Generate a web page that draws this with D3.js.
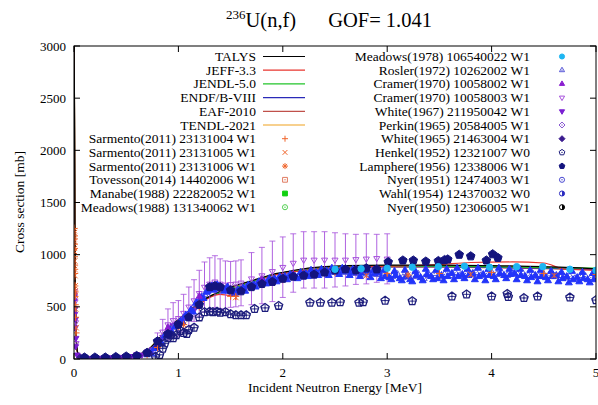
<!DOCTYPE html>
<html>
<head>
<meta charset="utf-8">
<script src="https://cdn.jsdelivr.net/npm/d3@7"></script>
<style>
  body { margin: 0; background: #fff; }
  svg { display: block; }
  text { font-family: "Liberation Serif", "Times New Roman", serif; fill: #000; }
</style>
</head>
<body>
<svg id="chart" width="598" height="405"></svg>
<script>
// ---- evaluated curves: [E (MeV), sigma (mb)] ----
var talys = [[0.0001,3600],[0.01,900],[0.02,260],[0.03,90],[0.05,25],[0.1,8],[0.2,6],[0.3,8],[0.4,12],[0.5,20],[0.6,40],[0.7,80],[0.8,180],[0.9,290],[1.0,380],[1.1,460],[1.2,540],[1.3,600],[1.4,650],[1.5,690],[1.6,720],[1.7,750],[1.8,780],[1.9,810],[2.0,830],[2.2,865],[2.4,885],[2.6,895],[3.0,900],[3.5,900],[4.0,895],[4.5,885],[5.0,865]];
var jeff = [[0.0001,3600],[0.01,850],[0.02,240],[0.03,80],[0.05,20],[0.1,6],[0.2,5],[0.3,7],[0.4,10],[0.5,18],[0.6,35],[0.7,70],[0.8,170],[0.9,280],[1.0,360],[1.1,440],[1.2,520],[1.3,590],[1.4,620],[1.5,610],[1.6,640],[1.7,700],[1.8,760],[1.9,800],[2.0,820],[2.2,850],[2.4,870],[2.6,880],[3.0,890],[3.5,905],[3.8,925],[4.2,930],[4.5,920],[4.7,860],[5.0,850]];
var jendl = [[0.0001,3600],[0.01,880],[0.02,250],[0.03,85],[0.05,22],[0.1,7],[0.2,6],[0.3,8],[0.4,11],[0.5,19],[0.6,38],[0.7,75],[0.8,175],[0.9,285],[1.0,370],[1.1,450],[1.2,530],[1.3,600],[1.4,640],[1.5,670],[1.6,705],[1.7,740],[1.8,775],[1.9,805],[2.0,825],[2.2,855],[2.4,875],[2.6,885],[3.0,890],[3.5,890],[4.0,885],[4.5,875],[5.0,870]];
var endf = [[0.0001,3600],[0.01,870],[0.02,250],[0.03,85],[0.05,22],[0.1,7],[0.2,6],[0.3,8],[0.4,11],[0.5,19],[0.6,38],[0.7,75],[0.8,175],[0.9,285],[1.0,370],[1.1,450],[1.2,530],[1.3,595],[1.4,635],[1.5,665],[1.6,700],[1.7,735],[1.8,770],[1.9,800],[2.0,820],[2.2,850],[2.4,870],[2.6,880],[3.0,885],[3.5,885],[4.0,880],[4.5,870],[5.0,860]];
var eaf = [[0.0001,3600],[0.01,860],[0.02,250],[0.03,85],[0.05,22],[0.1,7],[0.2,6],[0.3,8],[0.4,11],[0.5,19],[0.6,38],[0.7,75],[0.8,175],[0.9,285],[1.0,370],[1.1,450],[1.2,530],[1.3,595],[1.4,635],[1.5,665],[1.6,700],[1.7,735],[1.8,770],[1.9,800],[2.0,820],[2.2,850],[2.4,870],[2.6,880],[3.0,880],[3.5,880],[4.0,875],[4.5,865],[5.0,855]];
var tendl = [[0.0001,3600],[0.01,900],[0.02,260],[0.03,90],[0.05,25],[0.1,8],[0.2,6],[0.3,8],[0.4,12],[0.5,20],[0.6,40],[0.7,80],[0.8,180],[0.9,290],[1.0,375],[1.1,455],[1.2,535],[1.3,600],[1.4,645],[1.5,685],[1.6,715],[1.7,745],[1.8,775],[1.9,805],[2.0,825],[2.2,860],[2.4,880],[2.6,890],[3.0,895],[3.5,895],[4.0,890],[4.5,880],[5.0,865]];

// ---- experimental data: [E (MeV), sigma (mb), error (mb)] ----
var sarmento1 = [[0.002,1250,40],[0.003,1180,40],[0.004,1100,40],[0.005,980,40],[0.006,900,40],[0.007,820,40],[0.008,700,40],[0.010,600,30],[0.012,520,30],[0.015,400,30],[0.020,250,20],[0.30,3,2],[0.40,5,3],[0.50,10,4],[0.60,20,5],[0.70,40,8],[0.80,110,15],[0.90,250,20],[1.00,320,20],[1.20,500,25],[1.50,600,25],[1.55,600,25],[1.80,720,25],[2.00,760,25],[2.50,830,25],[3.00,820,25],[3.50,820,25],[4.00,830,25],[4.50,820,25],[5.00,810,25]];
var sarmento2 = [[0.002,1230,40],[0.003,1210,40],[0.004,1130,40],[0.005,1030,40],[0.006,940,40],[0.008,800,40],[0.010,700,30],[0.012,610,30],[0.015,480,30],[0.020,300,20],[0.60,5,3],[1.00,300,20],[1.55,590,25],[2.80,800,25],[3.80,810,25],[4.60,800,25]];
var sarmento3 = [[0.003,1150,40],[0.005,1060,40],[0.007,860,40],[0.010,650,30],[0.50,8,3],[1.05,330,20],[3.20,805,25]];
var tovesson = [];
var manabe = [];
var meadows88 = [];
var meadows78 = [[2.50,860,15],[2.75,865,15],[3.00,870,15],[3.24,880,15],[3.49,885,15],[3.74,890,15],[3.98,880,15],[4.24,885,15],[4.49,885,15],[4.75,860,15],[5.00,850,15]];
var roslerE = [0.70,0.75,0.80,0.85,0.90,0.95,1.00,1.05,1.10,1.15,1.20,1.25,1.30,1.35,1.40,1.45,1.50,1.55,1.60,1.65,1.70,1.75,1.80,1.85,1.90,1.95,2.00,2.05,2.10,2.15,2.20,2.25,2.30,2.35,2.40,2.45,2.50,2.55,2.60,2.65,2.70,2.75,2.80,2.85,2.90,2.95,3.00,3.05,3.10,3.15,3.20,3.25,3.30,3.35,3.40,3.45,3.50,3.55,3.60,3.65,3.70,3.75,3.80,3.85,3.90,3.95,4.00,4.05,4.10,4.15,4.20,4.25,4.30,4.35,4.40,4.45,4.50,4.55,4.60,4.65,4.70,4.75,4.80,4.85,4.90,4.95,5.00];
var roslerS = [40,80,130,200,260,300,340,390,430,500,560,620,680,690,680,670,650,640,660,690,700,720,730,740,760,760,780,790,800,790,810,820,815,830,820,840,830,845,830,840,820,835,815,830,810,820,800,790,810,780,800,790,810,770,800,820,790,810,800,830,800,820,810,830,800,820,830,810,820,800,830,810,820,800,810,790,810,800,790,800,780,790,770,800,790,780,790];
// a second, denser run of the same measurement
var roslerBand = [[0.72,60],[0.74,50],[0.77,100],[0.78,110],[0.82,160],[0.84,150],[0.87,220],[0.88,230],[0.92,280],[0.94,250],[0.97,310],[0.98,320],[1.02,360],[1.04,350],[1.07,420],[1.08,410],[1.12,470],[1.14,450],[1.17,540],[1.18,530],[1.22,590],[1.24,580],[1.27,640],[1.28,650],[1.32,700],[1.34,660],[1.37,710],[1.38,700],[1.42,680],[1.44,650],[1.47,690],[1.48,660],[1.52,640],[1.54,620],[1.57,660],[1.58,650],[1.62,680],[1.64,650],[1.67,710],[1.68,700],[1.72,710],[1.74,690],[1.77,740],[1.78,730],[1.82,740],[1.84,720],[1.87,770],[1.88,750],[1.92,770],[1.94,740],[1.97,790],[1.98,770],[2.02,790],[2.04,760],[2.07,810],[2.08,800],[2.12,790],[2.14,770],[2.17,830],[2.18,800],[2.22,820],[2.24,790],[2.27,850],[2.28,810],[2.32,830],[2.34,800],[2.37,860],[2.38,820],[2.42,845],[2.44,800],[2.47,870],[2.48,835],[2.52,850],[2.54,810],[2.57,870],[2.58,840],[2.62,850],[2.64,800],[2.67,860],[2.68,830],[2.72,845],[2.74,790],[2.77,860],[2.78,825],[2.82,840],[2.84,780],[2.87,850],[2.88,820],[2.92,830],[2.94,770],[2.97,850],[2.98,790],[3.02,780],[3.04,760],[3.07,840],[3.08,800],[3.12,770],[3.14,750],[3.17,850],[3.18,790],[3.22,760],[3.24,740],[3.27,840],[3.28,800],[3.32,780],[3.34,750],[3.37,860],[3.38,810],[3.42,790],[3.44,760],[3.47,850],[3.48,770],[3.52,800],[3.54,750],[3.57,860],[3.58,790],[3.62,820],[3.64,760],[3.67,870],[3.68,790],[3.72,810],[3.74,770],[3.77,860],[3.78,800],[3.82,820],[3.84,760],[3.87,870],[3.88,790],[3.92,810],[3.94,750],[3.97,860],[3.98,800],[4.02,790],[4.04,760],[4.07,870],[4.08,820],[4.12,800],[4.14,770],[4.17,860],[4.18,810],[4.22,820],[4.24,760],[4.27,860],[4.28,800],[4.32,790],[4.34,750],[4.37,850],[4.38,780],[4.42,800],[4.44,740],[4.47,850],[4.48,790],[4.52,780],[4.54,750],[4.57,840],[4.58,790],[4.62,800],[4.64,740],[4.67,830],[4.68,770],[4.72,790],[4.74,730],[4.77,840],[4.78,760],[4.82,780],[4.84,740],[4.87,830],[4.88,770],[4.92,760],[4.94,730],[4.97,820],[4.98,760]];
var cramer1 = [[0.9,300,40],[1.2,600,50],[1.5,650,50],[1.8,760,50],[2.1,810,50],[2.4,840,50],[2.7,850,50]];
var cramer2 = [[0.005,650,60],[0.010,550,60],[0.015,350,50],[0.020,150,30],[0.05,20,10],[0.10,10,8],[0.20,12,8],[0.30,15,10],[0.40,20,10],[0.50,30,15],[0.60,45,20],[0.70,70,30],[0.80,170,80],[0.85,260,120],[0.90,330,150],[0.95,370,170],[1.00,390,170],[1.05,440,180],[1.10,500,190],[1.15,560,200],[1.20,630,220],[1.25,690,240],[1.30,720,250],[1.35,740,250],[1.40,720,240],[1.45,710,230],[1.50,715,220],[1.55,720,220],[1.60,730,220],[1.70,770,250],[1.80,800,270],[1.90,840,290],[2.00,880,290],[2.10,920,280],[2.20,950,270],[2.30,950,270],[2.40,950,270],[2.50,950,260],[2.60,950,250],[2.70,955,240],[2.80,960,240],[2.90,965,230],[3.00,960,240]];
var white67 = [[0.001,620,30],[0.002,560,30],[0.004,600,30],[0.006,430,30],[0.008,480,30],[0.010,300,30],[0.012,380,30],[0.015,120,20],[0.018,200,20],[0.03,40,10],[0.15,8,5],[0.25,10,5],[0.35,14,6],[0.45,18,6],[0.55,26,8],[0.65,40,10],[0.75,90,15],[0.85,210,20],[0.95,320,25],[1.05,380,25],[1.15,470,25]];
var perkin = [];
var white65 = [[0.06,15,5],[0.12,12,5],[0.22,10,5],[0.32,12,5],[0.42,15,5],[0.52,22,6],[0.62,30,6],[0.72,55,8],[0.80,120,10]];
var henkel = [[0.78,20,20],[0.82,40,20],[0.85,100,25],[0.87,150,25],[0.90,200,30],[0.93,230,30],[0.95,200,30],[0.98,230,30],[1.02,270,30],[1.05,250,30],[1.08,240,30],[1.10,280,30],[1.15,300,30],[1.20,400,30],[1.25,450,30],[1.30,455,30],[1.33,450,30],[1.37,455,30],[1.40,445,30],[1.45,450,30],[1.50,430,30],[1.55,420,30],[1.60,420,30],[1.65,420,30],[1.73,480,30],[1.83,490,30],[1.96,510,30],[2.26,540,30],[2.36,540,30],[2.47,540,30],[2.55,545,30],[2.73,540,30],[2.77,545,30],[2.98,560,30],[3.24,555,30],[3.62,600,30],[3.76,620,30],[4.00,600,30],[4.15,625,30],[4.16,595,30],[4.31,585,30],[4.44,600,30],[4.75,590,30],[5.00,565,30]];
var lamphere = [[0.10,15,5],[0.20,15,5],[0.30,15,5],[0.40,20,5],[0.50,25,5],[0.60,30,5],[0.70,60,8],[0.80,170,10],[0.90,240,12],[1.00,330,15],[1.10,400,15],[1.20,520,15],[1.30,690,15],[1.35,700,15],[1.40,690,15],[1.50,660,15],[1.60,650,15],[1.70,690,15],[1.80,720,15],[1.90,740,15],[2.00,770,15],[2.10,790,15],[2.20,800,15],[2.30,810,15],[2.40,830,15],[2.50,850,15],[2.60,860,15],[2.70,850,15],[2.80,870,15],[2.90,860,15],[3.01,930,15],[3.15,945,15],[3.25,945,15],[3.37,935,15],[3.49,940,15],[3.55,950,15],[3.58,955,15],[3.69,1000,15],[3.80,985,15],[3.95,945,15],[4.01,1005,15],[4.06,970,15]];
var nyer51 = [];
var wahl = [];
var nyer50 = [];

var yTicks = [0, 500, 1000, 1500, 2000, 2500, 3000];
var xTicks = [0, 1, 2, 3, 4, 5];

var svg = d3.select("#chart");
var pL = 74, pR = 596, pT = 46, pB = 359;
var x = d3.scaleLinear().domain([0, 5]).range([pL, pR]);
var y = d3.scaleLinear().domain([0, 3000]).range([pB, pT]);

svg.append("rect").attr("width", 598).attr("height", 405).attr("fill", "#fff");

// marker paths, centred on 0,0
function markerPath(shape, r) {
    var p = d3.path();
    function poly(n, rot, rr) {
        for (var i = 0; i < n; i++) {
            var a = rot + i * 2 * Math.PI / n;
            var px = rr * Math.sin(a), py = -rr * Math.cos(a);
            if (i == 0) p.moveTo(px, py); else p.lineTo(px, py);
        }
        p.closePath();
    }
    if (shape == "plus") { p.moveTo(-r, 0); p.lineTo(r, 0); p.moveTo(0, -r); p.lineTo(0, r); }
    else if (shape == "times") { p.moveTo(-r * .8, -r * .8); p.lineTo(r * .8, r * .8); p.moveTo(-r * .8, r * .8); p.lineTo(r * .8, -r * .8); }
    else if (shape == "star") { p.moveTo(-r, 0); p.lineTo(r, 0); p.moveTo(0, -r); p.lineTo(0, r); p.moveTo(-r * .7, -r * .7); p.lineTo(r * .7, r * .7); p.moveTo(-r * .7, r * .7); p.lineTo(r * .7, -r * .7); }
    else if (shape == "square") { p.rect(-r * .8, -r * .8, r * 1.6, r * 1.6); }
    else if (shape == "circle") { p.arc(0, 0, r * .85, 0, 2 * Math.PI); }
    else if (shape == "tri") { poly(3, 0, r); }
    else if (shape == "dtri") { poly(3, Math.PI, r); }
    else if (shape == "diamond") { poly(4, 0, r); }
    else if (shape == "pent") { poly(5, 0, r); }
    return p.toString();
}

var curves = [
    {name: "TALYS", data: talys, color: "#000000"},
    {name: "JEFF-3.3", data: jeff, color: "#e8352e"},
    {name: "JENDL-5.0", data: jendl, color: "#22c42a"},
    {name: "ENDF/B-VIII", data: endf, color: "#2a2ab8"},
    {name: "EAF-2010", data: eaf, color: "#c0504a"},
    {name: "TENDL-2021", data: tendl, color: "#f0a21e"}
];

var leftSets = [
    {name: "Sarmento(2011) 23131004 W1", data: sarmento1, color: "#f0642a", shape: "plus", fill: false},
    {name: "Sarmento(2011) 23131005 W1", data: sarmento2, color: "#f0642a", shape: "times", fill: false},
    {name: "Sarmento(2011) 23131006 W1", data: sarmento3, color: "#f0642a", shape: "star", fill: false},
    {name: "Tovesson(2014) 14402006 W1", data: tovesson, color: "#e07a60", shape: "square", fill: false, dot: true},
    {name: "Manabe(1988) 222820052 W1", data: manabe, color: "#10d010", shape: "square", fill: true},
    {name: "Meadows(1988) 131340062 W1", data: meadows88, color: "#50d050", shape: "circle", fill: false, dot: true}
];
var rightSets = [
    {name: "Meadows(1978) 106540022 W1", data: meadows78, color: "#1eb6f2", shape: "circle", fill: true},
    {name: "Rosler(1972) 10262002 W1", data: roslerE.map((e, i) => [e, roslerS[i], 0]), color: "#5a5ad8", shape: "tri", fill: false, dot: true},
    {name: "Cramer(1970) 10058002 W1", data: cramer1, color: "#8a1ed0", shape: "tri", fill: true},
    {name: "Cramer(1970) 10058003 W1", data: cramer2, color: "#a650dc", shape: "dtri", fill: false},
    {name: "White(1967) 211950042 W1", data: white67, color: "#7a1ed2", shape: "dtri", fill: true},
    {name: "Perkin(1965) 20584005 W1", data: perkin, color: "#8a5ad2", shape: "diamond", fill: false, dot: true},
    {name: "White(1965) 21463004 W1", data: white65, color: "#3a1a8e", shape: "diamond", fill: true},
    {name: "Henkel(1952) 12321007 W0", data: henkel, color: "#1c1c7c", shape: "pent", fill: false, dot: true, hbar: true},
    {name: "Lamphere(1956) 12338006 W1", data: lamphere, color: "#14147e", shape: "pent", fill: true},
    {name: "Nyer(1951) 12474003 W1", data: nyer51, color: "#4a4ad2", shape: "circle", fill: false, dot: true},
    {name: "Wahl(1954) 124370032 W0", data: wahl, color: "#2a2ac0", shape: "circle", fill: false, half: true},
    {name: "Nyer(1950) 12306005 W1", data: nyer50, color: "#000000", shape: "circle", fill: false, half: true}
];
// dense blue band drawn with the Rosler style
var roslerDense = {data: roslerBand.map(d => [d[0], d[1], 0]), color: "#2234fa", shape: "tri", fill: true};

svg.append("defs").append("clipPath").attr("id", "clip")
    .append("rect").attr("x", pL).attr("y", pT).attr("width", pR - pL).attr("height", pB - pT);

var plot = svg.append("g").attr("clip-path", "url(#clip)");

function drawMarker(g, s, cx, cy, r, sw) {
    g.append("path")
        .attr("transform", `translate(${cx},${cy})`)
        .attr("d", markerPath(s.shape, r))
        .attr("fill", s.fill ? s.color : "none")
        .attr("stroke", s.color)
        .attr("stroke-width", sw || 1);
    if (s.dot) {
        g.append("circle").attr("cx", cx).attr("cy", cy).attr("r", 0.7).attr("fill", s.color);
    }
    if (s.half) {
        g.append("path").attr("transform", `translate(${cx},${cy})`)
            .attr("d", d3.arc()({innerRadius: 0, outerRadius: r * .85, startAngle: 0, endAngle: Math.PI}))
            .attr("fill", s.color);
    }
}

function drawSet(s, r, sw) {
    var g = plot.append("g");
    s.data.forEach(function (d) {
        if (d[2]) {
            g.append("line")
                .attr("x1", x(d[0])).attr("x2", x(d[0]))
                .attr("y1", y(d[1] - d[2])).attr("y2", y(d[1] + d[2]))
                .attr("stroke", s.color).attr("stroke-width", 0.9);
            if (d[2] > 60) {
                [d[1] - d[2], d[1] + d[2]].forEach(function (v) {
                    g.append("line").attr("x1", x(d[0]) - 3).attr("x2", x(d[0]) + 3)
                        .attr("y1", y(v)).attr("y2", y(v))
                        .attr("stroke", s.color).attr("stroke-width", 0.8);
                });
            }
        }
        if (s.hbar) {
            g.append("line").attr("x1", x(d[0]) - r).attr("x2", x(d[0]) + r)
                .attr("y1", y(d[1])).attr("y2", y(d[1]))
                .attr("stroke", s.color).attr("stroke-width", 0.9);
        }
    });
    s.data.forEach(function (d) { drawMarker(g, s, x(d[0]), y(d[1]), r, sw); });
}

// curves
var line = d3.line().x(d => x(d[0])).y(d => y(d[1])).curve(d3.curveMonotoneX);
curves.slice().reverse().forEach(function (c) {
    plot.append("path").datum(c.data)
        .attr("d", line).attr("fill", "none")
        .attr("stroke", c.color).attr("stroke-width", 1.2);
});

// experimental data
drawSet(rightSets[3], 3.5);   // Cramer 10058003 with big error bars
drawSet(rightSets[4], 3.5);
drawSet(rightSets[1], 4);
drawSet(roslerDense, 4);
drawSet(rightSets[2], 3.5);
drawSet(rightSets[6], 3.5);
leftSets.forEach(s => drawSet(s, 3.5));
drawSet(rightSets[7], 4.3, 1.3);
drawSet(rightSets[8], 4.5);
drawSet(rightSets[0], 3.8);

// frame and ticks (mirrored, inward)
var frame = svg.append("g");
frame.append("rect").attr("x", pL).attr("y", pT).attr("width", pR - pL).attr("height", pB - pT)
    .attr("fill", "none").attr("stroke", "#000").attr("stroke-width", 1);
yTicks.forEach(function (t) {
    frame.append("line").attr("x1", pL).attr("x2", pL + 6).attr("y1", y(t)).attr("y2", y(t)).attr("stroke", "#000");
    frame.append("line").attr("x1", pR).attr("x2", pR - 6).attr("y1", y(t)).attr("y2", y(t)).attr("stroke", "#000");
    frame.append("text").attr("x", pL - 8).attr("y", y(t) + 4.5).attr("text-anchor", "end")
        .attr("font-size", 13).text(t);
});
xTicks.forEach(function (t) {
    frame.append("line").attr("x1", x(t)).attr("x2", x(t)).attr("y1", pB).attr("y2", pB - 6).attr("stroke", "#000");
    frame.append("line").attr("x1", x(t)).attr("x2", x(t)).attr("y1", pT).attr("y2", pT + 6).attr("stroke", "#000");
    frame.append("text").attr("x", x(t)).attr("y", pB + 18).attr("text-anchor", "middle")
        .attr("font-size", 13).text(t);
});

svg.append("text").attr("x", 335).attr("y", 392).attr("text-anchor", "middle")
    .attr("font-size", 13.5).text("Incident Neutron Energy [MeV]");
svg.append("text").attr("transform", "translate(24,202) rotate(-90)").attr("text-anchor", "middle")
    .attr("font-size", 13.5).text("Cross section [mb]");

var title = svg.append("text").attr("x", 329).attr("y", 27).attr("text-anchor", "middle").attr("font-size", 20.5);
title.append("tspan").attr("font-size", 13).attr("dy", -8).text("236");
title.append("tspan").attr("dy", 8).text("U(n,f)");
title.append("tspan").attr("dx", 32).text("GOF= 1.041");

// legend
var rowH = 13.7, row0 = 56.5;
var leg = svg.append("g");
curves.forEach(function (c, i) {
    var yy = row0 + i * rowH;
    leg.append("text").attr("x", 256).attr("y", yy + 4.5).attr("text-anchor", "end").attr("font-size", 13.5).text(c.name);
    leg.append("line").attr("x1", 263).attr("x2", 305).attr("y1", yy).attr("y2", yy)
        .attr("stroke", c.color).attr("stroke-width", 1.2);
});
leftSets.forEach(function (s, i) {
    var yy = row0 + (i + 6) * rowH;
    leg.append("text").attr("x", 256).attr("y", yy + 4.5).attr("text-anchor", "end").attr("font-size", 13.5).text(s.name);
    drawMarker(leg, s, 285, yy, 3);
});
rightSets.forEach(function (s, i) {
    var yy = row0 + i * rowH;
    leg.append("text").attr("x", 530).attr("y", yy + 4.5).attr("text-anchor", "end").attr("font-size", 13.5).text(s.name);
    drawMarker(leg, s, 562, yy, 3);
});
</script>
</body>
</html>
